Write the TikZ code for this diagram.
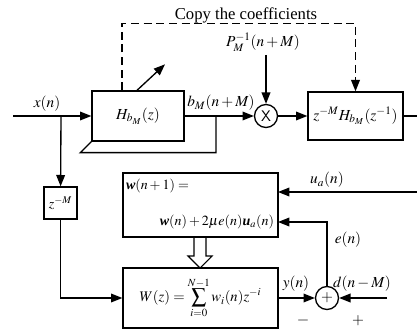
\documentclass[tikz,border=0pt]{standalone}
\usepackage{mathptmx}
\usepackage[no-math]{fontspec}
\setmainfont{Liberation Serif}
\usetikzlibrary{arrows.meta}
\newcommand{\bw}{\mbox{\bfseries\itshape w}}
\newcommand{\bu}{\mbox{\bfseries\itshape u}}
\begin{document}
\begin{tikzpicture}[x=0.75pt,y=-0.75pt,line width=1pt,
  font=\fontsize{11.5}{13}\selectfont,
  blk/.style={draw,inner sep=1pt},
  circ/.style={draw,circle,minimum size=17.25pt,inner sep=0pt},
  tip/.style={-{Triangle[length=8.5pt,width=6.5pt]}},
  lbl/.style={inner sep=1pt}]
\useasboundingbox (0,0) rectangle (417,331);
% blocks
\node[blk,minimum width=69pt,minimum height=37.5pt] (H) at (138,116) {$H_{b_M}(z)$};
\node[blk,minimum width=71.25pt,minimum height=36pt,inner sep=0pt] (Z) at (355.5,116) {$z^{-M}H_{b_M}(z^{-1})$};
\node[circ] (mul) at (266,116) {\sffamily X};
\node[blk,minimum width=24.75pt,minimum height=24pt,inner sep=0pt,font=\fontsize{10.5}{12}\selectfont] (D) at (60.5,203) {$z^{-M}$};
\node[blk,minimum width=116.25pt,minimum height=48pt] (U) at (200.5,205) {};
\node[lbl,anchor=west,font=\fontsize{10.5}{12}\selectfont] (U1) at (124,186) {$\bw(n+1) =$};
\node[lbl,anchor=east,font=\fontsize{10.5}{12}\selectfont] (U2) at (276,222) {$\bw(n)+2\mu e(n)\bu_a(n)$};
\node[blk,minimum width=116.25pt,minimum height=45pt,inner sep=0pt,font=\fontsize{11}{12}\selectfont] (W) at (200.5,298) {$\displaystyle W(z)=\sum_{i=0}^{N-1} w_i(n)z^{-i}$};
\node[circ] (sum) at (327,298) {$+$};
% coordinates
\coordinate (in) at (13,116);
\coordinate (br) at (61,116);
\coordinate (out) at (417,116);
\coordinate (fb) at (216,116);
\coordinate (pS) at (266,55);
\coordinate (uaS) at (417,192);
\coordinate (uaIn) at (278,192);
\coordinate (eIn) at (278,222);
\coordinate (dS) at (387,298);
% connectors
\draw[tip] (in) -- (H);
\draw[tip] (br) -- (D);
\draw[tip] (D) |- (W);
\draw[tip] (H) -- (mul);
\draw[tip] (mul) -- (Z);
\draw (Z) -- (out);
\draw[tip] (pS) -- (mul);
\draw (H.south west) -- ++(-11,11) -| (fb);
\draw[tip] ([xshift=-0.75pt]H.north) -- ++(28,-26);
\draw[tip,dashed,dash pattern=on 6pt off 3.5pt] ([xshift=-12pt]H.north) -- ++(0,-67) -| (Z.north);
\draw[tip] (uaS) -- (uaIn);
\draw[tip] (sum) |- (eIn);
\draw[tip] (W) -- (sum);
\draw[tip] (dS) -- (sum);
% hollow arrow
\draw[line width=0.8pt] (194,237) -- (194,256) -- (188,256) -- (200,268) -- (212,256) -- (206,256) -- (206,237);
% labels
\node[lbl,anchor=base,font=\fontsize{12.5}{14}\selectfont] (copy) at (246,20) {Copy the coefficients};
\node[lbl] (lx) at (47,104) {$x(n)$};
\node[lbl] (lb) at (221,103) {$b_M(n+M)$};
\node[lbl] (lp) at (263,42) {$P_M^{-1}(n+M)$};
\node[lbl] (lu) at (327,180) {$u_a(n)$};
\node[lbl] (le) at (348,240) {$e(n)$};
\node[lbl] (ly) at (296,284) {$y(n)$};
\node[lbl] (ld) at (362,284) {$d(n-M)$};
\node[lbl] (lm) at (303,320) {\bfseries\large $-$};
\node[lbl] (lpl) at (358,321) {\bfseries $+$};
\end{tikzpicture}
\end{document}
